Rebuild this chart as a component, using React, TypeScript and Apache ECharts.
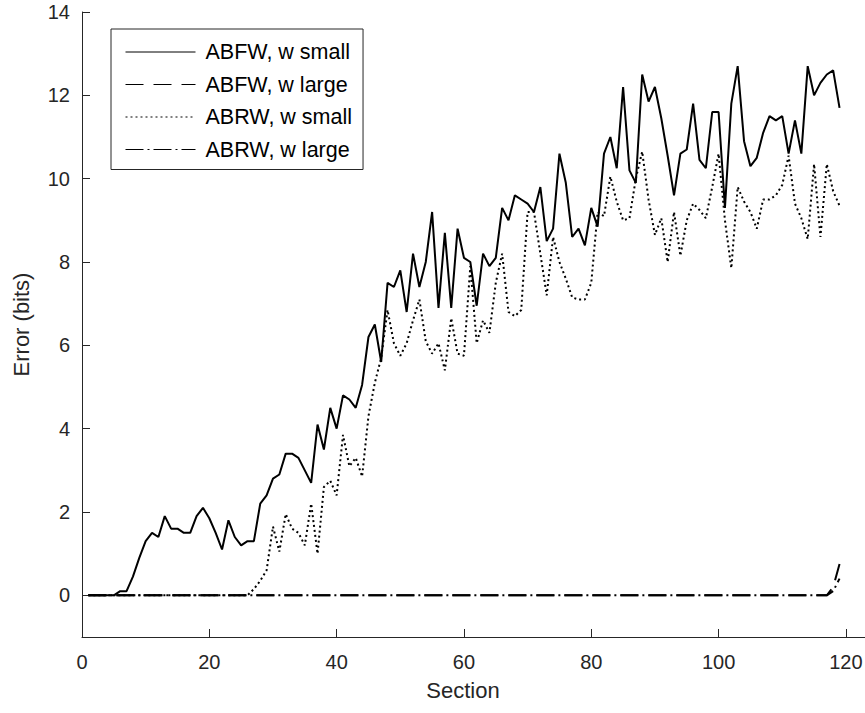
import React, { useEffect, useRef } from "react";
import * as echarts from "echarts";

// Section index (x) 1..119
const sections: number[] = Array.from({ length: 119 }, (_, i) => i + 1);

const xTicks = [0, 20, 40, 60, 80, 100, 120];
const yTicks = [0, 2, 4, 6, 8, 10, 12, 14];

const seriesNames = ["ABFW, w small", "ABFW, w large", "ABRW, w small", "ABRW, w large"];

const abfwSmall = [
  0, 0, 0, 0, 0, 0.1, 0.1, 0.45, 0.9, 1.3,
  1.5, 1.4, 1.9, 1.6, 1.6, 1.5, 1.5, 1.9, 2.1, 1.85,
  1.5, 1.1, 1.8, 1.4, 1.2, 1.3, 1.3, 2.2, 2.4, 2.8,
  2.9, 3.4, 3.4, 3.3, 3.0, 2.7, 4.1, 3.5, 4.5, 4.0,
  4.8, 4.7, 4.5, 5.05, 6.2, 6.5, 5.6, 7.5, 7.4, 7.8,
  6.8, 8.2, 7.4, 8.0, 9.2, 6.9, 8.7, 6.9, 8.8, 8.1,
  8.0, 6.95, 8.2, 7.9, 8.1, 9.3, 9.0, 9.6, 9.5, 9.4,
  9.2, 9.8, 8.5, 8.8, 10.6, 9.9, 8.6, 8.8, 8.4, 9.3,
  8.85, 10.6, 11.0, 10.25, 12.2, 10.2, 9.9, 12.5, 11.85, 12.2,
  11.45, 10.55, 9.6, 10.6, 10.7, 11.8, 10.45, 10.25, 11.6, 11.6,
  9.3, 11.8, 12.7, 10.9, 10.3, 10.5, 11.1, 11.5, 11.4, 11.5,
  10.6, 11.4, 10.6, 12.7, 12.0, 12.3, 12.5, 12.6, 11.7,
];

const abfwLarge = [
  0, 0, 0, 0, 0, 0, 0, 0, 0, 0,
  0, 0, 0, 0, 0, 0, 0, 0, 0, 0,
  0, 0, 0, 0, 0, 0, 0, 0, 0, 0,
  0, 0, 0, 0, 0, 0, 0, 0, 0, 0,
  0, 0, 0, 0, 0, 0, 0, 0, 0, 0,
  0, 0, 0, 0, 0, 0, 0, 0, 0, 0,
  0, 0, 0, 0, 0, 0, 0, 0, 0, 0,
  0, 0, 0, 0, 0, 0, 0, 0, 0, 0,
  0, 0, 0, 0, 0, 0, 0, 0, 0, 0,
  0, 0, 0, 0, 0, 0, 0, 0, 0, 0,
  0, 0, 0, 0, 0, 0, 0, 0, 0, 0,
  0, 0, 0, 0, 0, 0, 0, 0.2, 0.75,
];

const abrwSmall = [
  0, 0, 0, 0, 0, 0, 0, 0, 0, 0,
  0, 0, 0, 0, 0, 0, 0, 0, 0, 0,
  0, 0, 0, 0, 0, 0, 0.15, 0.35, 0.6, 1.65,
  1.05, 1.95, 1.6, 1.5, 1.2, 2.2, 1.0, 2.6, 2.75, 2.4,
  3.85, 3.1, 3.3, 2.85, 4.3, 5.1, 5.7, 6.85, 6.05, 5.75,
  6.05, 6.6, 7.1, 6.1, 5.8, 6.05, 5.4, 6.65, 5.8, 5.75,
  7.9, 6.05, 6.6, 6.3, 7.5, 8.2, 6.8, 6.7, 6.85, 9.2,
  9.2, 8.2, 7.2, 8.6, 8.0, 7.6, 7.15, 7.1, 7.1, 7.5,
  9.2, 9.1, 10.05, 9.45, 9.0, 9.05, 10.0, 10.65, 9.5, 8.65,
  9.05, 8.0, 9.2, 8.15, 9.0, 9.4, 9.25, 9.05, 9.8, 10.6,
  9.0, 7.85, 9.8, 9.45, 9.2, 8.8, 9.5, 9.5, 9.6, 9.85,
  10.55, 9.4, 9.05, 8.55, 10.35, 8.6, 10.35, 9.7, 9.35,
];

const abrwLarge = [
  0, 0, 0, 0, 0, 0, 0, 0, 0, 0,
  0, 0, 0, 0, 0, 0, 0, 0, 0, 0,
  0, 0, 0, 0, 0, 0, 0, 0, 0, 0,
  0, 0, 0, 0, 0, 0, 0, 0, 0, 0,
  0, 0, 0, 0, 0, 0, 0, 0, 0, 0,
  0, 0, 0, 0, 0, 0, 0, 0, 0, 0,
  0, 0, 0, 0, 0, 0, 0, 0, 0, 0,
  0, 0, 0, 0, 0, 0, 0, 0, 0, 0,
  0, 0, 0, 0, 0, 0, 0, 0, 0, 0,
  0, 0, 0, 0, 0, 0, 0, 0, 0, 0,
  0, 0, 0, 0, 0, 0, 0, 0, 0, 0,
  0, 0, 0, 0, 0, 0, 0, 0.1, 0.4,
];

const seriesValues = [abfwSmall, abfwLarge, abrwSmall, abrwLarge];
const dashTypes: any[] = ["solid", [18, 10], [2, 3], [18, 4, 2, 4]];

const AXIS = "#262626";
const FONT = "'Liberation Sans', Arial, Helvetica, sans-serif";

export default function App() {
  const ref = useRef<HTMLDivElement>(null);

  useEffect(() => {
    if (!ref.current) return;
    const chart = echarts.init(ref.current, undefined, { renderer: "svg" });
    const option: any = {
      animation: false,
      backgroundColor: "#ffffff",
      textStyle: { fontFamily: FONT },
      grid: {
        left: 82,
        top: 12,
        width: 783,
        height: 625,
        containLabel: false,
        outerBoundsMode: "none",
      },
      xAxis: {
        type: "value",
        min: 0,
        max: 123,
        name: "Section",
        nameLocation: "middle",
        nameGap: 42,
        nameTextStyle: { fontSize: 22, color: AXIS, fontFamily: FONT, padding: [0, 21, 0, 0] },
        axisLine: { show: true, onZero: false, lineStyle: { color: AXIS, width: 1 } },
        axisTick: { show: true, inside: true, length: 8, customValues: xTicks, lineStyle: { color: AXIS, width: 1 } },
        axisLabel: { customValues: xTicks, fontSize: 20, color: AXIS, margin: 15, fontFamily: FONT },
        splitLine: { show: false },
      },
      yAxis: {
        type: "value",
        min: -1,
        max: 14,
        name: "Error (bits)",
        nameLocation: "middle",
        nameGap: 50,
        nameRotate: 90,
        nameTextStyle: { fontSize: 22, color: AXIS, fontFamily: FONT },
        axisLine: { show: true, onZero: false, lineStyle: { color: AXIS, width: 1 } },
        axisTick: { show: true, inside: true, length: 8, customValues: yTicks, lineStyle: { color: AXIS, width: 1 } },
        axisLabel: { customValues: yTicks, fontSize: 20, color: AXIS, margin: 12, fontFamily: FONT },
        splitLine: { show: false },
      },
      legend: {
        orient: "vertical",
        left: 111,
        top: 29,
        padding: [12, 11, 9, 14],
        backgroundColor: "#ffffff",
        borderColor: AXIS,
        borderWidth: 1,
        itemWidth: 70,
        itemHeight: 20,
        itemGap: 10.5,
        selectedMode: false,
        itemStyle: { opacity: 0, color: "transparent", borderWidth: 0 },
        lineStyle: { width: 1, opacity: 1 },
        textStyle: { fontSize: 21.5, color: "#000000", lineHeight: 20, padding: [0, 0, 0, 5], fontFamily: FONT },
        data: seriesNames,
      },
      series: seriesNames.map((name, si) => ({
        name,
        type: "line",
        symbol: "none",
        showSymbol: false,
        color: "#000000",
        lineStyle: { color: "#000000", width: 2, type: dashTypes[si] },
        data: sections.map((x, i) => [x, seriesValues[si][i]]),
        z: 2 + si,
      })),
    };
    chart.setOption(option);
    return () => {
      chart.dispose();
    };
  }, []);

  return (
    <div
      ref={ref}
      style={{ position: "fixed", left: 0, top: 0, width: 865, height: 713, background: "#fff" }}
    />
  );
}
